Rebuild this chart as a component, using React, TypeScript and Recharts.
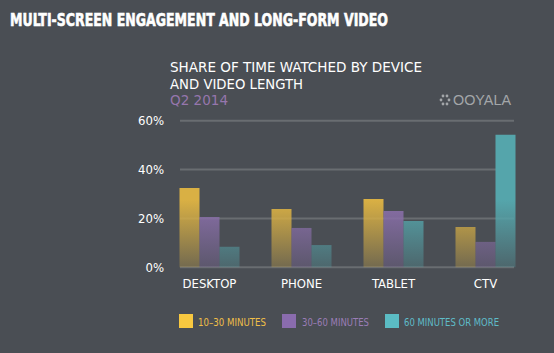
import React from "react";
import { BarChart, Bar, XAxis, YAxis, CartesianGrid } from "recharts";

const categories = ["DESKTOP", "PHONE", "TABLET", "CTV"];
const short = [32.5, 23.9, 28.0, 16.5];
const mid = [20.6, 16.1, 23.0, 10.4];
const long = [8.4, 9.1, 19.0, 54.2];
const yTicks = [0, 20, 40, 60];

const seriesNames = ["10–30 MINUTES", "30–60 MINUTES", "60 MINUTES OR MORE"];
const barColors = ["#d9b044", "#8a6faa", "#55a5ab"];
const legendColors = ["#f8c840", "#8a6cae", "#5bbcc4"];
const legendText = ["#f0be48", "#9a7db6", "#5fbcc8"];

const data = categories.map((c, i) => ({ name: c, a: short[i], b: mid[i], c: long[i] }));

const BG = "#4a4e54";
const NARROW = "'Liberation Sans Narrow', 'DejaVu Sans Condensed', 'Liberation Sans', sans-serif";

const legendPos = [
  { x: 179, tx: 198, tw: 68 },
  { x: 282, tx: 302, tw: 67 },
  { x: 385, tx: 404, tw: 95 },
];

export default function App() {
  return (
    <div style={{ position: "fixed", left: 0, top: 0, width: 554, height: 353, background: BG, overflow: "hidden" }}>
      <BarChart
        width={554}
        height={353}
        data={data}
        margin={{ top: 120.7, right: 40, bottom: 55.7, left: 130 }}
        barGap={0}
        barCategoryGap={16}
      >
        <defs>
          {barColors.map((col, i) => (
            <linearGradient key={i} id={`g${i}`} gradientUnits="userSpaceOnUse" x1={0} y1={200} x2={0} y2={268}>
              <stop offset="0" stopColor={col} stopOpacity={1} />
              <stop offset="1" stopColor={col} stopOpacity={0.28} />
            </linearGradient>
          ))}
        </defs>
        <CartesianGrid vertical={false} stroke="#696d71" strokeWidth={2} />
        <XAxis
          dataKey="name"
          height={30}
          axisLine={false}
          tickLine={false}
          tickSize={0}
          tickMargin={11}
          padding={{ left: -16.5, right: -17.5 }}
          tick={{ fill: "#ffffff", fontSize: 13, fontFamily: NARROW }}
          interval={0}
        />
        <YAxis
          width={50}
          domain={[0, 60]}
          ticks={yTicks}
          axisLine={false}
          tickLine={false}
          tickSize={0}
          tickMargin={16}
          tickFormatter={(v: number) => `${v}%`}
          tick={{ fill: "#ffffff", fontSize: 13, fontFamily: NARROW }}
        />
        <Bar dataKey="a" name={seriesNames[0]} fill="url(#g0)" barSize={20} isAnimationActive={false} />
        <Bar dataKey="b" name={seriesNames[1]} fill="url(#g1)" barSize={20} isAnimationActive={false} />
        <Bar dataKey="c" name={seriesNames[2]} fill="url(#g2)" barSize={20} isAnimationActive={false} />
      </BarChart>
      {legendPos.map((p, i) => (
        <div key={i} style={{ position: "absolute", left: p.x, top: 314, width: 14, height: 14, background: legendColors[i] }} />
      ))}
      <svg width={554} height={353} style={{ position: "absolute", left: 0, top: 0, pointerEvents: "none" }}>
        {legendPos.map((p, i) => (
          <text key={i} x={p.tx} y={325.5} fill={legendText[i]} fontSize={11} fontFamily={NARROW} textLength={p.tw} lengthAdjust="spacingAndGlyphs">
            {seriesNames[i]}
          </text>
        ))}
        <text x={10} y={26} fill="#ffffff" stroke="#ffffff" strokeWidth={0.6} fontSize={18} fontWeight="bold" fontFamily="'DejaVu Sans Condensed', 'Liberation Sans Narrow', sans-serif" textLength={378} lengthAdjust="spacingAndGlyphs">
          MULTI-SCREEN ENGAGEMENT AND LONG-FORM VIDEO
        </text>
        <text x={170} y={72} fill="#ffffff" fontSize={14} fontFamily={NARROW} textLength={252} lengthAdjust="spacingAndGlyphs">
          SHARE OF TIME WATCHED BY DEVICE
        </text>
        <text x={170} y={88.5} fill="#ffffff" fontSize={14} fontFamily={NARROW} textLength={133} lengthAdjust="spacingAndGlyphs">
          AND VIDEO LENGTH
        </text>
        <text x={170} y={105} fill="#9676ad" fontSize={14} fontFamily={NARROW} textLength={58} lengthAdjust="spacingAndGlyphs">
          Q2 2014
        </text>
        <g fill="#a3a6a9">
          <circle cx={443} cy={96} r={1.4} />
          <circle cx={447} cy={96} r={1.4} />
          <circle cx={441} cy={100} r={1.4} />
          <circle cx={449} cy={100} r={1.4} />
          <circle cx={443} cy={104} r={1.4} />
          <circle cx={447} cy={104} r={1.4} />
        </g>
        <text x={453} y={105} fill="#a3a6a9" fontSize={15} fontFamily="'Liberation Sans', sans-serif" textLength={58} lengthAdjust="spacingAndGlyphs">
          OOYALA
        </text>
      </svg>
    </div>
  );
}
